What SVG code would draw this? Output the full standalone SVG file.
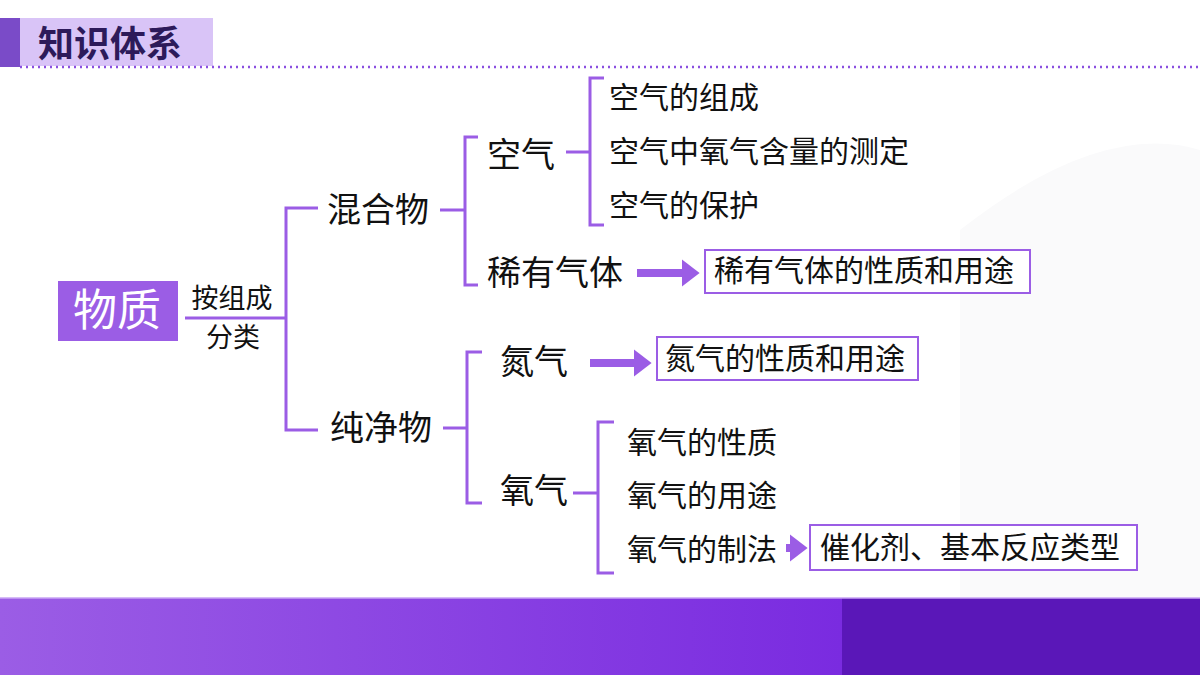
<svg xmlns="http://www.w3.org/2000/svg" width="1200" height="675" viewBox="0 0 1200 675">
<defs>
<style>
.t{font-family:"Noto Sans CJK SC","Noto Sans",sans-serif;fill:#111}
.s{font-size:30px}
.q{font-size:27px}
.m{font-size:34px}
.l{stroke:#9b5de5;stroke-width:3;fill:none}
.b{stroke:#9b5de5;stroke-width:2;fill:#fff}
.a{stroke:#9b5de5;stroke-width:8;fill:none}
</style>
<linearGradient id="g" x1="0" x2="1" y1="0" y2="0"><stop offset="0" stop-color="#9b5de5"/><stop offset="1" stop-color="#7a2be0"/></linearGradient>
<marker id="m" markerWidth="4" markerHeight="4" refX="1" refY="2" orient="auto" markerUnits="strokeWidth"><path d="M0,0.3 L2.2,2 L0,3.7Z" fill="#9b5de5"/></marker>
</defs>
<rect width="1200" height="675" fill="#fff"/>
<path d="M960,230 Q1100,120 1200,150 L1200,598 L960,598Z" fill="#fafafb"/>
<g id="header">
<rect x="0" y="18" width="20" height="49" fill="#7a4bc8"/>
<rect x="20" y="18" width="193" height="48" fill="#d9c4f7"/>
<text x="38" y="57" class="t" font-size="36" font-weight="bold" style="fill:#2d1a5a">知识体系</text>
<line x1="20" y1="67" x2="1200" y2="67" stroke="#8a4fe0" stroke-width="2.5" stroke-dasharray="2,4"/>
</g>
<g id="footer">
<rect x="0" y="598" width="842" height="77" fill="url(#g)"/>
<rect x="842" y="598" width="358" height="77" fill="#5a17b8"/>
<line x1="0" y1="598" x2="1200" y2="598" stroke="#c9a5f5" stroke-width="1.5"/>
</g>
<g id="connectors">
<path class="l" d="M185,318 H286 M318,208 H286 V430 H318"/>
<path class="l" d="M440,210 H465 M478,137 H465 V285 H478"/>
<path class="l" d="M566,152 H590 M604,78 H590 V225 H604"/>
<path class="l" d="M443,428 H467 M482,352 H467 V503 H482"/>
<path class="l" d="M573,493 H598 M614,422 H598 V573 H614"/>
<line class="a" x1="637" y1="273" x2="690" y2="273" marker-end="url(#m)"/>
<line class="a" x1="590" y1="363" x2="642" y2="363" marker-end="url(#m)"/>
<line class="a" x1="786" y1="548" x2="798" y2="548" stroke-width="6" marker-end="url(#m)"/>
</g>
<g id="n-wuzhi"><rect x="58" y="281" width="120" height="60" fill="#9b5de5"/><text x="117" y="326" class="t" font-size="44" text-anchor="middle" style="fill:#fff">物质</text></g>
<g id="n-label"><text x="232" y="308" class="t q" text-anchor="middle">按组成</text><text x="233" y="347" class="t q" text-anchor="middle">分类</text></g>
<g id="n-hunhe"><text x="327" y="222" class="t m">混合物</text></g>
<g id="n-chunjing"><text x="330" y="440" class="t m">纯净物</text></g>
<g id="n-kongqi"><text x="487" y="167" class="t m">空气</text></g>
<g id="n-k1"><text x="609" y="108" class="t s">空气的组成</text></g>
<g id="n-k2"><text x="609" y="162" class="t s">空气中氧气含量的测定</text></g>
<g id="n-k3"><text x="609" y="216" class="t s">空气的保护</text></g>
<g id="n-xiyou"><text x="487" y="285" class="t m">稀有气体</text></g>
<g id="n-xiyou2"><rect class="b" x="705" y="250" width="325" height="43"/><text x="714" y="281" class="t s">稀有气体的性质和用途</text></g>
<g id="n-danqi"><text x="500" y="374" class="t m">氮气</text></g>
<g id="n-danqi2"><rect class="b" x="657" y="337" width="261" height="43"/><text x="665" y="369" class="t s">氮气的性质和用途</text></g>
<g id="n-yangqi"><text x="500" y="503" class="t m">氧气</text></g>
<g id="n-y1"><text x="627" y="453" class="t s">氧气的性质</text></g>
<g id="n-y2"><text x="627" y="506" class="t s">氧气的用途</text></g>
<g id="n-y3"><text x="627" y="560" class="t s">氧气的制法</text></g>
<g id="n-y4"><rect class="b" x="810" y="525" width="327" height="45"/><text x="820" y="558" class="t s">催化剂、基本反应类型</text></g>
</svg>
